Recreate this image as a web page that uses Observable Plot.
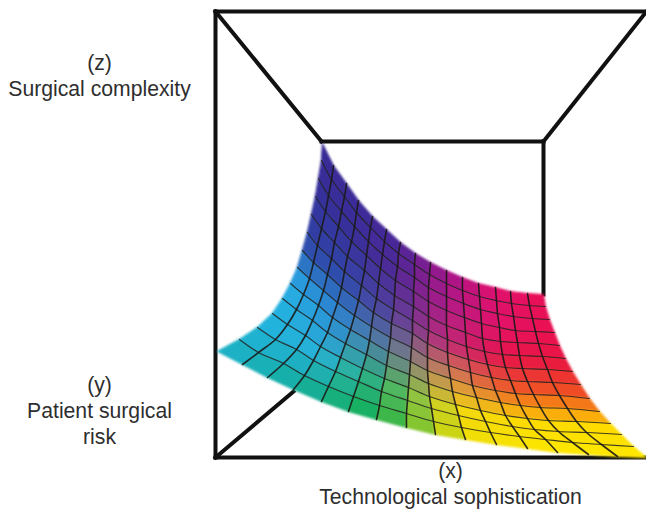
<!DOCTYPE html>
<html>
<head>
<meta charset="utf-8">
<style>html,body{margin:0;padding:0;background:#fff}svg{display:block}</style>
<script src="https://cdn.jsdelivr.net/npm/d3@7"></script>
<script src="https://cdn.jsdelivr.net/npm/@observablehq/plot@0.6"></script>
</head>
<body>
<script>
// Surface mesh nodes: one row per constant-y mesh line, 16 nodes left to right.
const meshXByRow = [
 [322,333,346,358,372,386,400,415,430,446,462,478,495,510,527,543],
 [321,331,344,356,370,384,398,414,429,446,462,479,496,511,529,545],
 [318,328,341,354,368,382,397,414,428,446,463,480,497,513,532,549],
 [315,325,338,351,366,380,395,413,428,446,464,481,499,515,535,554],
 [311,321,334,347,364,378,394,413,428,446,465,482,500,517,538,559],
 [307,317,331,344,361,376,393,412,428,447,466,484,502,519,542,565],
 [302,313,327,341,358,373,391,412,427,447,468,487,505,522,547,572],
 [297,309,323,337,354,371,390,411,427,448,470,491,510,527,552,580],
 [290,303,318,332,350,369,388,410,427,450,472,495,515,533,559,589],
 [282,296,312,327,345,366,386,409,428,452,476,500,520,540,567,599],
 [272,287,305,320,340,362,384,408,429,455,480,505,527,548,576,610],
 [257,275,296,313,335,358,381,407,431,458,485,512,534,558,586,621],
 [239,258,283,304,328,353,379,406,433,461,490,519,545,572,601,633],
 [217,242,267,293,321,348,376,406,435,465,496,527,557,588,617,646]
];
const meshYByRow = [
 [143,165,183,200,216,229,242,253,262,270,277,283,287,291,293,294],
 [160,179,196,212,227,241,253,264,274,283,290,296,300,303,305,306],
 [178,195,211,226,241,254,266,277,287,296,303,309,313,316,318,319],
 [196,211,226,241,255,268,280,291,301,310,317,323,327,330,331,332],
 [214,228,242,256,270,283,295,306,316,325,332,338,341,342,343,345],
 [232,245,258,271,285,298,309,320,330,339,346,351,354,355,356,358],
 [250,262,274,287,300,312,323,333,343,352,359,364,367,368,369,371],
 [267,278,290,302,315,326,337,347,357,365,372,377,380,381,382,384],
 [283,294,305,317,329,340,351,361,370,378,385,390,393,394,395,398],
 [298,309,320,332,343,354,365,374,383,391,397,402,405,407,408,411],
 [313,324,335,346,357,368,378,387,396,404,410,415,418,420,421,423],
 [327,339,349,360,371,381,391,400,408,415,421,426,429,431,432,434],
 [339,352,363,375,386,396,405,413,421,427,432,436,439,442,444,446],
 [351,364,377,389,401,411,419,427,434,439,444,448,452,454,456,457]
];
// Surface colours read at spaced mesh positions.
const colourCols = [0,3,6,9,12,15];
const colourRows = [0,2.6,5.2,7.8,10.4,13];
const colourTable = [
 ["#3a2a95","#3c2a98","#4a2598","#a0158c","#e00f6e","#e80f55"],
 ["#35309a","#38309a","#502a98","#b01a88","#e2126a","#ea1050"],
 ["#3040a5","#3045a8","#54409c","#c02a78","#e6154a","#ea1540"],
 ["#28ade6","#2a8ad4","#5a7a98","#d08850","#f05a25","#f05020"],
 ["#20b4dc","#28b0dc","#30b070","#f0d810","#ffdc00","#ffdc00"],
 ["#1db2c8","#10ae94","#14b050","#eedd05","#ffe800","#ffe800"]
];
// Box outline.
const frameX1 = [215,215,215,215,646,321,543,215];
const frameY1 = [11,11,457,11,11,141,141,457];
const frameX2 = [646,215,646,321,543,543,543,293];
const frameY2 = [11,457,457,141,141,141,294,391];
// Labels.
const labelText = ["(z)","Surgical complexity","(y)","Patient surgical","risk","(x)","Technological sophistication"];
const labelX = [99,99,99,99,99,450,450];
const labelY = [63,89,385,411,437,471,497];

const nJ = meshXByRow.length, nI = meshXByRow[0].length;
const lerp = (d,r)=>d3.scaleLinear().domain(d).range(r).interpolate(d3.interpolateRgb).clamp(true);
const colsAtRow = colourCols.map((_,c)=>lerp(colourRows,colourTable.map(r=>r[c])));
const colourAt = (i,j)=>lerp(colourCols,colsAtRow.map(f=>f(j)))(i);

const cells = [];
for (let i=0;i<nI-1;i++) for (let j=0;j<nJ-1;j++) {
  const c = colourAt(i+.5,j+.5), id = i+"-"+j;
  [[i,j],[i+1,j],[i+1,j+1],[i,j+1]].forEach(([a,b])=>cells.push({x:meshXByRow[b][a],y:meshYByRow[b][a],cell:id,colour:c}));
}
const lineA = [], lineB = [];
for (let i=1;i<nI-1;i++) for (let j=0;j<nJ;j++) lineA.push({x:meshXByRow[j][i],y:meshYByRow[j][i],k:i});
for (let j=1;j<nJ-1;j++) for (let i=0;i<nI;i++) lineB.push({x:meshXByRow[j][i],y:meshYByRow[j][i],k:j});
const frame = frameX1.map((_,n)=>({x1:frameX1[n],y1:frameY1[n],x2:frameX2[n],y2:frameY2[n]}));
const labels = labelText.map((t,n)=>({t,x:labelX[n],y:labelY[n]}));

const chart = Plot.plot({
  width:646, height:509, margin:0,
  style:{background:"#fff"},
  x:{domain:[0,646],range:[0,646],axis:null},
  y:{domain:[0,509],range:[0,509],axis:null},
  marks:[
    Plot.link(frame,{x1:"x1",y1:"y1",x2:"x2",y2:"y2",stroke:"#111",strokeWidth:4,strokeLinecap:"square",imageFilter:"blur(0.4px)"}),
    Plot.line(cells,{x:"x",y:"y",z:"cell",fill:"colour",stroke:"colour",strokeWidth:1,curve:"linear-closed",imageFilter:"blur(0.9px)"}),
    Plot.line(lineB,{x:"x",y:"y",z:"k",stroke:"#222",strokeWidth:1.2,strokeOpacity:.85,curve:"catmull-rom"}),
    Plot.line(lineA,{x:"x",y:"y",z:"k",stroke:"#1a1a1a",strokeWidth:1.6,strokeOpacity:.9,curve:"catmull-rom"}),
    Plot.text(labels,{x:"x",y:"y",text:"t",fill:"#2e2e2e",fontSize:21.2,fontFamily:"Liberation Sans",textAnchor:"middle",lineAnchor:"middle"})
  ]
});
document.body.appendChild(chart);
</script>
</body>
</html>
